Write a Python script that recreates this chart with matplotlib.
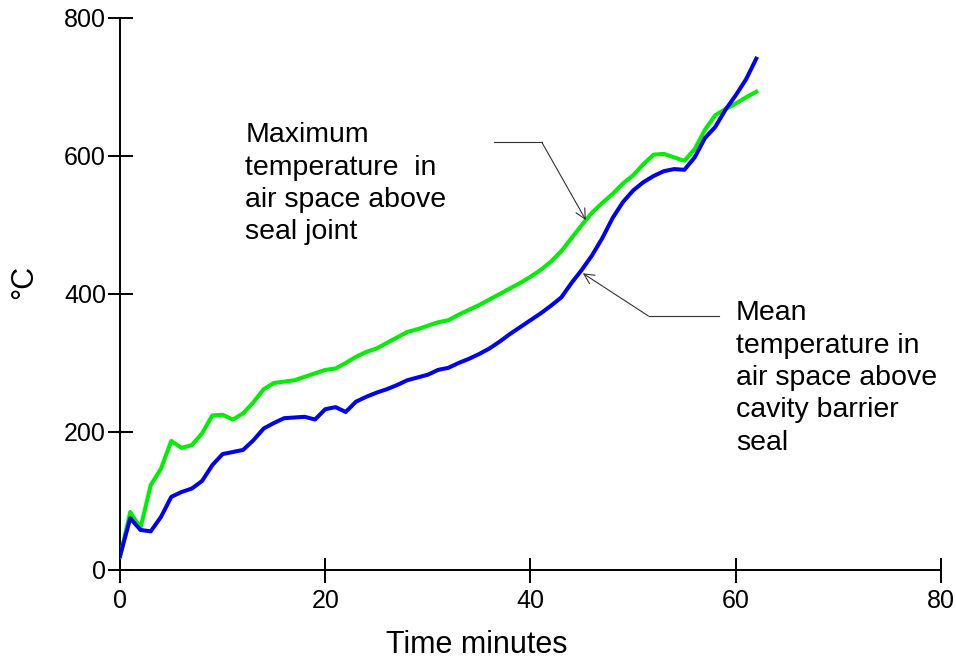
import matplotlib.pyplot as plt
import numpy as np

plt.rcParams['font.family'] = ['Liberation Sans', 'DejaVu Sans']

minutes = np.arange(0, 63)

max_temp = [19, 84, 61, 123, 147, 187, 177, 181, 198, 224,
            225, 218, 227, 243, 262, 271, 273, 275, 280, 285,
            290, 292, 300, 309, 316, 321, 329, 337, 345, 349,
            354, 359, 362, 370, 377, 384, 392, 400, 408, 416,
            425, 435, 447, 462, 481, 500, 518, 532, 545, 560,
            572, 588, 602, 603, 598, 593, 610, 638, 659, 668,
            676, 685, 693]

mean_temp = [20, 75, 58, 56, 77, 106, 113, 118, 129, 152,
             168, 171, 174, 188, 205, 213, 220, 221, 222, 218,
             233, 236, 229, 244, 251, 257, 262, 268, 275, 279,
             283, 290, 293, 300, 306, 313, 321, 331, 342, 352,
             362, 372, 383, 395, 416, 435, 456, 481, 510, 533,
             550, 562, 571, 578, 581, 580, 598, 626, 642, 667,
             688, 711, 741]

x_ticks = [0, 20, 40, 60, 80]
y_ticks = [0, 200, 400, 600, 800]

fig = plt.figure(figsize=(9.56, 6.64), dpi=100)
ax = fig.add_axes([0.1255, 0.1416, 0.8588, 0.8313])

ax.plot(minutes, max_temp, color='#00ee00', lw=2.9, solid_joinstyle='round', zorder=3)
ax.plot(minutes, mean_temp, color='#0000ee', lw=2.9, solid_joinstyle='round', zorder=3)

ax.set_xlim(0, 80)
ax.set_ylim(0, 800)
ax.set_xticks(x_ticks)
ax.set_yticks(y_ticks)
ax.spines['top'].set_visible(False)
ax.spines['right'].set_visible(False)
for s in ['left', 'bottom']:
    ax.spines[s].set_linewidth(1.4)
ax.tick_params(axis='both', direction='inout', length=18, width=1.4, labelsize=18)
ax.tick_params(axis='y', pad=1)
ax.tick_params(axis='x', pad=4.5)
for t in ax.get_xticklabels() + ax.get_yticklabels():
    t.set_clip_on(False)

ax.set_xlabel('Time minutes', fontsize=22)
ax.xaxis.set_label_coords(0.434, -0.108)
ax.set_ylabel('°C', fontsize=22)
ax.yaxis.set_label_coords(-0.098, 0.522)

# annotation text
ax.text(12.2, 649, 'Maximum\ntemperature  in\nair space above\nseal joint',
        fontsize=20.5, va='top', ha='left', linespacing=1.32)
ax.text(60.0, 391, 'Mean\ntemperature in\nair space above\ncavity barrier\nseal',
        fontsize=20.5, va='top', ha='left', linespacing=1.32)

# leader lines with open arrowheads
ax.plot([36.4, 41.1], [620, 620], color='#333333', lw=0.8)
ax.annotate('', xy=(45.4, 507), xytext=(41.1, 620),
            arrowprops=dict(arrowstyle='->', color='#333333', lw=0.8,
                            shrinkA=0, shrinkB=0, mutation_scale=18))
ax.plot([51.5, 58.4], [368, 368], color='#333333', lw=0.8)
ax.annotate('', xy=(45.1, 430), xytext=(51.5, 368),
            arrowprops=dict(arrowstyle='->', color='#333333', lw=0.8,
                            shrinkA=0, shrinkB=0, mutation_scale=18))

plt.savefig('out.png', dpi=100)
